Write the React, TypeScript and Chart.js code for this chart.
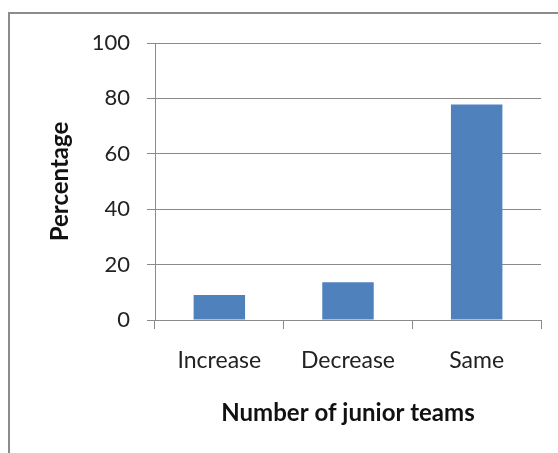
import React, { useEffect, useRef } from "react";
import { Chart, registerables } from "chart.js";

Chart.register(...registerables);

const categories = ["Increase", "Decrease", "Same"];
const percentages = [9, 13.6, 77.8];
const yTicks = [0, 20, 40, 60, 80, 100];

const FONT = "Lato, 'Open Sans', sans-serif";
const GRID = "#8a8a8a";

export default function App() {
  const ref = useRef<HTMLCanvasElement | null>(null);

  useEffect(() => {
    if (!ref.current) return;
    const chart = new Chart(ref.current, {
      type: "bar",
      data: {
        labels: categories,
        datasets: [
          {
            data: percentages,
            backgroundColor: "#4F81BD",
            borderWidth: 0,
            barPercentage: 0.4,
            categoryPercentage: 1,
          },
        ],
      },
      options: {
        responsive: false,
        animation: false,
        devicePixelRatio: 1,
        layout: { padding: { top: 43, right: 17, bottom: 0, left: 0 } },
        plugins: {
          legend: { display: false },
          tooltip: { enabled: false },
        },
        scales: {
          x: {
            afterFit: (s: any) => {
              s.height = 133;
            },
            grid: {
              offset: true,
              drawOnChartArea: false,
              drawTicks: true,
              tickLength: 9,
              color: GRID,
              lineWidth: 1,
            },
            border: { display: true, color: GRID, width: 1 },
            ticks: {
              color: "#222",
              font: { family: FONT, size: 23 },
              padding: 18,
            },
            title: {
              display: true,
              text: "Number of junior teams",
              color: "#111",
              font: { family: FONT, size: 24, weight: "bold" },
              padding: { top: 0, bottom: 25 },
            },
          },
          y: {
            min: 0,
            max: 100,
            afterFit: (s: any) => {
              s.width = 155;
            },
            afterBuildTicks: (s: any) => {
              s.ticks = yTicks.map((v) => ({ value: v }));
            },
            grid: {
              color: GRID,
              lineWidth: 1,
              tickLength: 8,
              drawTicks: true,
            },
            border: { display: true, color: GRID, width: 1 },
            ticks: {
              color: "#222",
              font: { family: FONT, size: 22 },
              padding: 17,
            },
            title: {
              display: true,
              text: "Percentage",
              color: "#111",
              font: { family: FONT, size: 24, weight: "bold" },
              padding: { top: 46, bottom: 0 },
            },
          },
        },
      },
    });
    return () => chart.destroy();
  }, []);

  return (
    <div
      style={{
        position: "fixed",
        left: 0,
        top: 0,
        width: 558,
        height: 453,
        overflow: "hidden",
        background: "#fff",
      }}
    >
      <div
        style={{
          position: "absolute",
          left: 8,
          top: 12,
          width: 600,
          height: 500,
          borderTop: "2px solid #8c8c8c",
          borderLeft: "2px solid #8c8c8c",
        }}
      />
      <canvas
        ref={ref}
        width={558}
        height={453}
        style={{ position: "absolute", left: 0, top: 0 }}
      />
    </div>
  );
}
